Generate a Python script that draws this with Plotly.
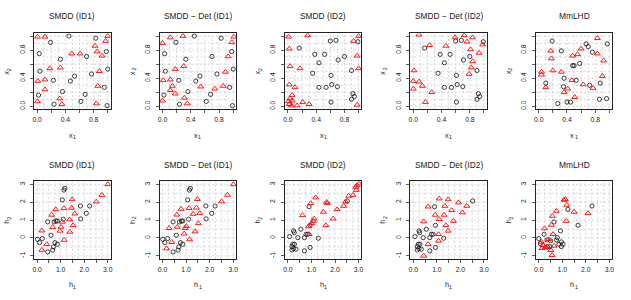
import plotly.graph_objects as go

# ---------------- data ----------------
panel_titles = ["SMDD (ID1)", "SMDD \u2212 Det (ID1)", "SMDD (ID2)", "SMDD \u2212 Det (ID2)", "MmLHD"]
top_axis_labels = (("x", "1"), ("x", "2"))
bottom_axis_labels = (("h", "1"), ("h", "2"))

# top row: design space (x1, x2)
id1_black_x1 = [0.45, 0.19, 0.83, 0.03, 0.98, 0.70, 0.33, 1.00, 0.04, 0.53, 0.77, 0.23, 0.47, 0.95, 0.36, 0.02, 0.68, 0.62, 0.24, 0.99]
id1_black_x2 = [1.00, 0.91, 0.97, 0.75, 0.78, 0.71, 0.67, 0.53, 0.50, 0.43, 0.46, 0.37, 0.36, 0.27, 0.21, 0.16, 0.17, 0.07, 0.03, 0.01]

smdd_id1_red_x1 = [0.005, 0.11, 1.00, 0.97, 0.82, 0.85, 0.92, 0.61, 0.49, 0.18, 0.33, 0.88, 0.01, 0.11, 0.11, 0.86, 0.32, 0.005, 0.35, 0.84]
smdd_id1_red_x2 = [0.99, 0.99, 1.00, 0.93, 0.86, 0.78, 0.72, 0.75, 0.75, 0.54, 0.55, 0.50, 0.36, 0.38, 0.24, 0.29, 0.11, 0.07, 0.03, 0.04]

det_id1_red_x1 = [0.00, 0.11, 0.29, 1.01, 0.98, 0.93, 0.18, 0.30, 0.89, 0.01, 0.11, 0.14, 0.11, 0.18, 0.54, 0.74, 0.86, 0.31, 0.00, 0.35]
det_id1_red_x2 = [0.90, 0.98, 1.00, 0.99, 0.91, 0.71, 0.53, 0.57, 0.49, 0.37, 0.38, 0.29, 0.23, 0.18, 0.28, 0.25, 0.29, 0.12, 0.08, 0.04]

id2_black_x1 = [0.60, 0.68, 0.99, 0.16, 0.38, 0.52, 0.71, 0.80, 0.44, 0.35, 0.61, 0.90, 0.44, 0.54, 0.62, 0.70, 0.92, 0.94, 0.90, 0.61]
id2_black_x2 = [0.93, 0.94, 0.92, 0.83, 0.74, 0.74, 0.66, 0.71, 0.62, 0.47, 0.44, 0.51, 0.27, 0.27, 0.31, 0.28, 0.18, 0.14, 0.10, 0.06]

smdd_id2_red_x1 = [0.01, 0.28, 1.00, 0.93, 0.02, 0.98, 1.00, 0.17, 0.03, 0.02, 0.10, 0.06, 0.03, 0.01, 0.06, 0.02, 0.05, 0.13, 0.21, 0.30, 0.98]
smdd_id2_red_x2 = [0.99, 1.01, 1.00, 0.93, 0.82, 0.72, 0.54, 0.54, 0.57, 0.31, 0.27, 0.16, 0.11, 0.07, 0.08, 0.03, 0.01, 0.01, 0.06, 0.03, 0.02]

det_id2_red_x1 = [0.08, 0.59, 0.72, 0.84, 0.76, 0.98, 0.23, 0.46, 0.81, 0.93, 0.84, 0.82, 0.79, 0.01, 0.00, 0.08, 0.13, 0.00, 0.26, 0.17]
det_id2_red_x2 = [1.02, 0.98, 1.01, 0.98, 0.92, 0.88, 0.87, 0.86, 0.81, 0.76, 0.64, 0.55, 0.46, 0.51, 0.36, 0.35, 0.29, 0.25, 0.20, 0.06]

mmlhd_black_x1 = [0.19, 0.32, 0.67, 0.70, 0.97, 0.76, 0.58, 0.48, 0.50, 0.10, 0.36, 0.53, 0.35, 0.72, 0.87, 0.86, 0.96, 0.27, 0.40, 0.45]
mmlhd_black_x2 = [0.93, 0.79, 0.89, 0.85, 0.89, 0.77, 0.61, 0.58, 0.58, 0.33, 0.40, 0.37, 0.28, 0.30, 0.33, 0.10, 0.11, 0.04, 0.06, 0.06]

mmlhd_red_x1 = [0.83, 0.17, 0.18, 0.48, 0.55, 0.60, 0.83, 0.92, 0.04, 0.04, 0.20, 0.32, 0.90, 0.47, 0.63, 0.77, 0.10, 0.41, 0.36, 0.51]
mmlhd_red_x2 = [0.97, 0.79, 0.68, 0.72, 0.74, 0.82, 0.75, 0.65, 0.49, 0.45, 0.51, 0.49, 0.43, 0.37, 0.31, 0.26, 0.27, 0.25, 0.20, 0.13]

# bottom row: (h1, h2)
id1_black_h1 = [1.18, 1.14, 1.07, 1.84, 2.23, 2.09, 1.85, 1.11, 0.80, 0.86, 0.45, 0.72, 0.59, 0.01, 0.22, 0.10, 0.76, 0.86, 0.69, 0.66, 0.45]
id1_black_h2 = [2.78, 2.68, 2.13, 1.79, 1.79, 1.38, 1.07, 1.05, 0.95, 0.95, 0.90, 0.90, 0.15, -0.07, -0.03, -0.26, -0.26, -0.35, -0.50, -0.68, -0.78]

smdd_id1_red_h1 = [3.00, 2.75, 2.51, 1.49, 1.46, 1.14, 0.79, 1.60, 0.62, 1.38, 1.07, 0.66, 1.53, 1.01, 0.97, 1.39, 0.20, 1.15, 0.41, 0.20]
smdd_id1_red_h2 = [3.00, 2.40, 2.03, 2.16, 1.68, 1.66, 1.60, 1.36, 1.29, 1.03, 0.90, 0.60, 0.71, 0.62, 0.40, 0.34, 0.41, -0.11, -0.35, -0.67]

det_id1_red_h1 = [3.01, 2.76, 2.51, 1.48, 1.44, 1.13, 0.79, 1.58, 0.61, 1.30, 1.52, 0.63, 1.01, 0.96, 0.28, 0.92, 1.38, 1.15, 0.39, 0.17]
det_id1_red_h2 = [3.00, 2.41, 2.04, 2.17, 1.69, 1.67, 1.62, 1.38, 1.30, 1.34, 0.82, 0.62, 0.66, 0.55, 0.55, 0.24, 0.36, -0.08, -0.23, -0.59]

id2_black_h1 = [2.52, 0.90, 0.94, 0.55, 0.24, 0.27, 0.07, 0.42, 0.77, 0.84, 0.70, 1.29, 0.21, 0.17, 0.28, 0.24, 0.17, 0.34, 0.94, 0.70]
id2_black_h2 = [2.07, 1.75, 0.71, 0.49, 0.40, 0.30, 0.08, 0.02, 0.21, 0.21, 0.02, -0.01, -0.35, -0.48, -0.35, -0.59, -0.67, -0.63, -0.53, -0.72]

smdd_id2_red_h1 = [3.02, 2.93, 2.88, 2.90, 2.76, 2.58, 2.45, 2.37, 2.09, 1.92, 1.18, 0.97, 1.64, 1.67, 1.50, 0.62, 1.11, 1.08, 1.01, 0.87, 1.61, 0.90]
smdd_id2_red_h2 = [3.04, 2.94, 2.85, 2.68, 2.40, 2.35, 2.03, 1.79, 1.60, 1.08, 2.26, 1.94, 2.01, 1.94, 1.46, 1.27, 1.08, 0.95, 0.82, 0.64, 0.71, 0.21]

det_id2_red_h1 = [1.10, 1.48, 1.92, 1.34, 2.27, 1.63, 0.63, 0.93, 1.31, 2.08, 1.10, 1.70, 0.44, 1.38, 1.48, 1.07, 1.07, 0.63, 0.44]
det_id2_red_h2 = [2.20, 2.16, 1.98, 1.79, 1.79, 1.55, 1.75, 1.29, 1.29, 1.42, 1.05, 0.95, 0.92, 0.71, 0.40, 0.21, -0.16, -0.35, -1.00]

mmlhd_black_h1 = [2.26, 1.24, 1.67, 0.65, 0.92, 0.23, 0.00, 0.79, 0.35, 0.51, 0.75, 0.96, 0.86, 1.03, 0.96, 0.07, 0.37, 0.47]
mmlhd_black_h2 = [1.79, 1.60, 0.71, 0.90, 0.40, 0.21, -0.03, 0.02, -0.11, -0.16, -0.11, -0.22, -0.35, -0.35, -0.48, -0.31, -0.50, -0.48]

mmlhd_red_h1 = [1.07, 1.13, 1.19, 1.50, 0.75, 2.09, 0.58, 1.17, 0.54, 0.25, 0.61, 0.11, 0.42, 0.18, 0.28, 0.14, 0.65, 0.37, 0.51, 0.57]
mmlhd_red_h2 = [2.13, 2.16, 1.85, 1.46, 1.51, 1.38, 1.23, 0.95, 0.73, 0.53, 0.21, -0.22, -0.07, -0.40, -0.53, -0.57, -0.44, -0.48, -0.68, -0.96]

top_black = [(id1_black_x1, id1_black_x2), (id1_black_x1, id1_black_x2),
             (id2_black_x1, id2_black_x2), (id2_black_x1, id2_black_x2),
             (mmlhd_black_x1, mmlhd_black_x2)]
top_red = [(smdd_id1_red_x1, smdd_id1_red_x2), (det_id1_red_x1, det_id1_red_x2),
           (smdd_id2_red_x1, smdd_id2_red_x2), (det_id2_red_x1, det_id2_red_x2),
           (mmlhd_red_x1, mmlhd_red_x2)]
bot_black = [(id1_black_h1, id1_black_h2), (id1_black_h1, id1_black_h2),
             (id2_black_h1, id2_black_h2), (id2_black_h1, id2_black_h2),
             (mmlhd_black_h1, mmlhd_black_h2)]
bot_red = [(smdd_id1_red_h1, smdd_id1_red_h2), (det_id1_red_h1, det_id1_red_h2),
           (smdd_id2_red_h1, smdd_id2_red_h2), (det_id2_red_h1, det_id2_red_h2),
           (mmlhd_red_h1, mmlhd_red_h2)]

# ticks: labelled ticks, unlabelled tick marks, dashed grid positions
top_ticks = [0.0, 0.4, 0.8]
top_ticktext = ["0.0", "0.4", "0.8"]
top_unlabelled = [0.2, 0.6, 1.0]
top_grid = [0.0, 0.1, 0.2, 0.3, 0.4, 0.5, 0.6, 0.7, 0.8, 0.9, 1.0]
bot_xticks = [0.0, 1.0, 2.0, 3.0]
bot_xticktext = ["0.0", "1.0", "2.0", "3.0"]
bot_xunlabelled = [0.5, 1.5, 2.5]
bot_xgrid = [0.0, 0.25, 0.5, 0.75, 1.0, 1.25, 1.5, 1.75, 2.0, 2.25, 2.5, 2.75, 3.0]
bot_yticks = [-1, 0, 1, 2, 3]
bot_yticktext = ["-1", "0", "1", "2", "3"]
bot_ygrid = [-1.0, -0.5, 0.0, 0.5, 1.0, 1.5, 2.0, 2.5, 3.0]

# ---------------- layout ----------------
W, H = 631, 300
FONT = "Liberation Sans"
col_left = [32.5 + 126.2 * i for i in range(5)]
box_w = 76.8
row_box = [(33.4, 109.5), (182.1, 259.6)]
LAB_SIZE, SUB_SIZE = 7.4, 5.2

fig = go.Figure()
layout = dict(width=W, height=H, margin=dict(l=0, r=0, t=0, b=0),
              paper_bgcolor="white", plot_bgcolor="white", showlegend=False,
              font=dict(family=FONT, color="#111"))
annotations = []
shapes = []
grid_line = dict(color="#c8c8c8", width=0.75, dash="2px,2px")
tick_style = dict(ticks="outside", ticklen=3, tickwidth=0.8, tickcolor="#333")


def text_at(txt, px, py, size, angle=0):
    return dict(text=txt, x=px / W, y=1 - py / H, xref="paper", yref="paper",
                showarrow=False, textangle=angle, xanchor="center", yanchor="middle",
                font=dict(family=FONT, size=size, color="#222"))


def axis_label(letter, sub, px, py, vertical):
    # letter followed by a smaller subscript digit
    lw = LAB_SIZE * (0.5 if letter == "x" else 0.556)
    sw = SUB_SIZE * 0.556
    total = lw + 0.3 + sw
    off_l = lw / 2 - total / 2
    off_s = lw + 0.3 + sw / 2 - total / 2
    if not vertical:
        return [text_at(letter, px + off_l, py, LAB_SIZE),
                text_at(sub, px + off_s, py + 2.0, SUB_SIZE)]
    return [text_at(letter, px, py - off_l, LAB_SIZE, -90),
            text_at(sub, px + 2.0, py - off_s, SUB_SIZE, -90)]


for r in range(2):
    for c in range(5):
        k = r * 5 + c + 1
        xn = "x" if k == 1 else f"x{k}"
        yn = "y" if k == 1 else f"y{k}"
        xk = "xaxis" if k == 1 else f"xaxis{k}"
        yk = "yaxis" if k == 1 else f"yaxis{k}"
        top, bot = row_box[r]
        xd = [col_left[c] / W, (col_left[c] + box_w) / W]
        yd = [1 - bot / H, 1 - top / H]
        if r == 0:
            bx, by = top_black[c]
            rx, ry = top_red[c]
            xr, yr = [-0.04, 1.04], [-0.04, 1.04]
            xtv, xtt, xun, xg = top_ticks, top_ticktext, top_unlabelled, top_grid
            ytv, ytt, yun, yg = top_ticks, top_ticktext, top_unlabelled, top_grid
            xlab, ylab = top_axis_labels
        else:
            bx, by = bot_black[c]
            rx, ry = bot_red[c]
            xr, yr = [-0.12, 3.12], [-1.16, 3.16]
            xtv, xtt, xun, xg = bot_xticks, bot_xticktext, bot_xunlabelled, bot_xgrid
            ytv, ytt, yun, yg = bot_yticks, bot_yticktext, [], bot_ygrid
            xlab, ylab = bottom_axis_labels

        # dashed grid (drawn beneath the markers)
        for gv in xg:
            shapes.append(dict(type="line", xref=xn, yref=f"{yn} domain", x0=gv, x1=gv,
                               y0=0, y1=1, line=grid_line, layer="below"))
        for gv in yg:
            shapes.append(dict(type="line", yref=yn, xref=f"{xn} domain", y0=gv, y1=gv,
                               x0=0, x1=1, line=grid_line, layer="below"))

        fig.add_trace(go.Scatter(x=bx, y=by, mode="markers", xaxis=xn, yaxis=yn,
                                 marker=dict(symbol="circle-open", size=4.2, color="#111",
                                             line=dict(width=0.8, color="#111")),
                                 hoverinfo="skip"))
        fig.add_trace(go.Scatter(x=rx, y=ry, mode="markers", xaxis=xn, yaxis=yn,
                                 marker=dict(symbol="triangle-up-open", size=5.2, color="#ff0000",
                                             line=dict(width=0.9, color="#ff0000")),
                                 hoverinfo="skip"))

        common = dict(showline=True, linecolor="#222", linewidth=1, mirror=True,
                      showgrid=False, zeroline=False,
                      tickfont=dict(family=FONT, size=6.8, color="#222"),
                      **tick_style)
        xminor = dict(tickmode="array", tickvals=xun, showgrid=False, **tick_style) if xun else dict(ticks="")
        yminor = dict(tickmode="array", tickvals=yun, showgrid=False, **tick_style) if yun else dict(ticks="")
        layout[xk] = dict(domain=xd, range=xr, anchor=yn, tickmode="array",
                          tickvals=xtv, ticktext=xtt, minor=xminor,
                          ticklabelstandoff=1, **common)
        layout[yk] = dict(domain=yd, range=yr, anchor=xn, tickmode="array",
                          tickvals=ytv, ticktext=ytt, tickangle=-90, minor=yminor,
                          ticklabelstandoff=3, **common)

        cxp = col_left[c] + box_w / 2
        annotations.append(dict(text=panel_titles[c], x=cxp / W, y=1 - (15.7 + 150 * r) / H,
                                xref="paper", yref="paper", showarrow=False,
                                font=dict(family=FONT, size=8.4, color="#222"),
                                xanchor="center", yanchor="middle"))
        annotations += axis_label(xlab[0], xlab[1], cxp, 135.5 + 150 * r, False)
        annotations += axis_label(ylab[0], ylab[1], 5.0 + 126.2 * c, (top + bot) / 2, True)

layout["annotations"] = annotations
layout["shapes"] = shapes
fig.update_layout(**layout)
fig.write_html("out.html", config={"displayModeBar": False, "staticPlot": True},
               post_script="document.body.style.margin='0';")
